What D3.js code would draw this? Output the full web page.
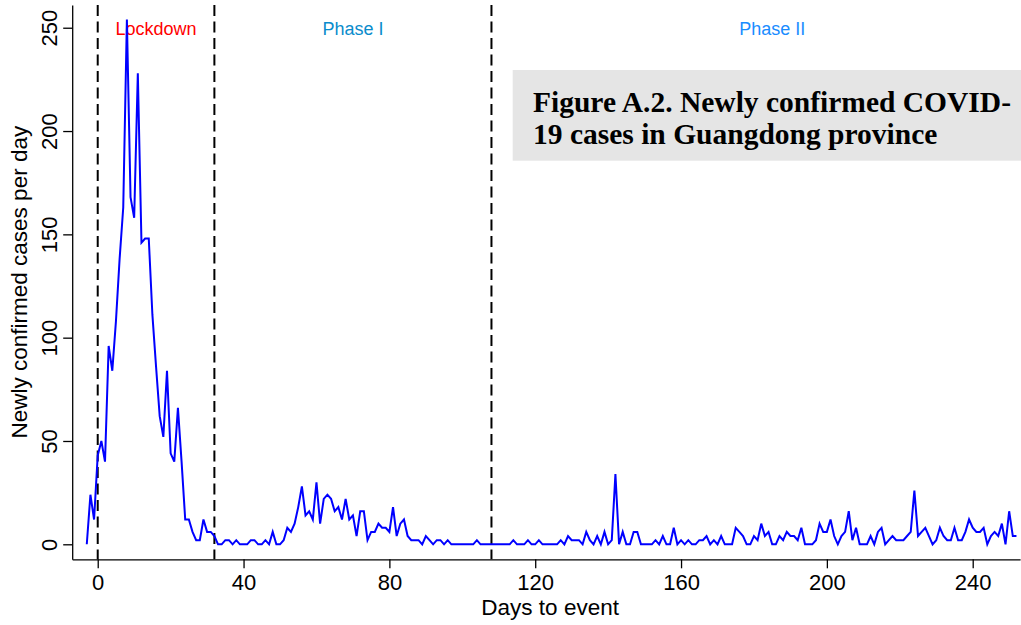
<!DOCTYPE html>
<html>
<head>
<meta charset="utf-8">
<script src="https://cdn.jsdelivr.net/npm/d3@7"></script>
<style>
  html, body { margin: 0; padding: 0; background: #ffffff; }
  svg { display: block; }
</style>
</head>
<body>
<svg id="chart" width="1021" height="625"></svg>
<script>
// ---- data ----
const firstDay = -3;
const cases = [
  0, 24, 12,
  43, 50, 40, 96, 84, 108, 138, 163, 254, 168,
  158, 228, 146, 148, 148, 111, 86, 62, 52, 84,
  44, 40, 66, 40, 12, 12, 6, 2, 2, 12,
  6, 6, 4, 0, 0, 2, 2, 0, 2, 0,
  0, 0, 2, 2, 0, 0, 2, 0, 6, 0,
  0, 2, 8, 6, 10, 18, 28, 14, 16, 12,
  30, 10, 22, 24, 22, 16, 18, 12, 22, 12,
  14, 4, 16, 16, 2, 6, 6, 10, 8, 8,
  6, 18, 4, 10, 12, 4, 2, 2, 2, 0,
  4, 2, 0, 2, 2, 0, 2, 0, 0, 0,
  0, 0, 0, 0, 2, 0, 0, 0, 0, 0,
  0, 0, 0, 0, 2, 0, 0, 0, 2, 0,
  0, 2, 0, 0, 0, 0, 0, 2, 0, 4,
  2, 2, 2, 0, 6, 2, 0, 4, 0, 6,
  0, 2, 34, 0, 6, 0, 0, 6, 6, 0,
  0, 0, 0, 2, 0, 4, 0, 0, 8, 0,
  2, 0, 2, 0, 0, 2, 2, 4, 0, 2,
  0, 4, 0, 0, 0, 8, 6, 4, 0, 0,
  4, 2, 10, 4, 6, 0, 0, 4, 2, 6,
  4, 4, 2, 8, 0, 0, 0, 2, 10, 6,
  6, 12, 4, 0, 4, 6, 16, 2, 8, 0,
  0, 0, 4, 0, 6, 8, 0, 2, 4, 2,
  2, 2, 4, 6, 26, 4, 6, 8, 4, 0,
  2, 8, 4, 2, 2, 8, 2, 2, 6, 12,
  8, 6, 6, 8, 0, 4, 6, 4, 10, 0,
  16, 4, 4
];
const xTicks = [0, 40, 80, 120, 160, 200, 240];
const yTicks = [0, 50, 100, 150, 200, 250];
const eventDays = [0, 32, 108];
const phaseNames = ["Lockdown", "Phase I", "Phase II"];
const phaseDays = [16, 70, 185];
const phaseColors = ["#ff0000", "#0a8ccc", "#1a8cff"];
const xTitle = "Days to event";
const yTitle = "Newly confirmed cases per day";
const titleLines = ["Figure A.2. Newly confirmed COVID-", "19 cases in Guangdong province"];

// ---- layout ----
const W = 1021, H = 625;
const svg = d3.select("#chart");
const x = d3.scaleLinear().domain([-7, 253]).range([72.2, 1020.1]);
const y = d3.scaleLinear().domain([-7.26, 261]).range([559.3, 5]);
const sansFont = "'Liberation Sans', Arial, Helvetica, sans-serif";
const serifFont = "'Liberation Serif', 'Times New Roman', Times, serif";

const data = cases.map((v, i) => ({ day: firstDay + i, value: v }));

// title box
const tb = svg.append("g");
tb.append("rect")
  .attr("x", 512.7).attr("y", 70).attr("width", W - 512.7).attr("height", 90.7)
  .attr("fill", "#e5e5e5");
tb.selectAll("text").data(titleLines).enter().append("text")
  .attr("x", 533).attr("y", (d, i) => 111.5 + i * 32)
  .attr("font-family", serifFont).attr("font-weight", "bold")
  .attr("font-size", 29.5).attr("fill", "#000")
  .text(d => d);

// x axis
const xAxis = d3.axisBottom(x).tickValues(xTicks).tickSize(9).tickSizeOuter(0).tickPadding(6);
const gx = svg.append("g").attr("transform", `translate(0,${y.range()[0]})`).call(xAxis);
gx.select(".domain").attr("stroke", "#000").attr("stroke-width", 1.3);
gx.selectAll(".tick line").attr("stroke", "#000").attr("stroke-width", 1.3);
gx.selectAll(".tick text").attr("font-family", sansFont).attr("font-size", 22).attr("fill", "#000");

// y axis
const yAxis = d3.axisLeft(y).tickValues(yTicks).tickSize(9).tickSizeOuter(0);
const gy = svg.append("g").attr("transform", `translate(${x.range()[0]},0)`).call(yAxis);
gy.select(".domain").attr("stroke", "#000").attr("stroke-width", 1.3);
gy.selectAll(".tick line").attr("stroke", "#000").attr("stroke-width", 1.3);
gy.selectAll(".tick text")
  .attr("font-family", sansFont).attr("font-size", 22).attr("fill", "#000")
  .attr("x", null).attr("dy", null)
  .attr("text-anchor", "middle")
  .attr("transform", "translate(-15,0) rotate(-90)");

// axis titles
svg.append("text")
  .attr("x", (x.range()[0] + x.range()[1]) / 2 + 4).attr("y", 615)
  .attr("text-anchor", "middle")
  .attr("font-family", sansFont).attr("font-size", 22.5).attr("fill", "#000")
  .text(xTitle);
svg.append("text")
  .attr("transform", `translate(27,${(y.range()[0] + y.range()[1]) / 2}) rotate(-90)`)
  .attr("text-anchor", "middle")
  .attr("font-family", sansFont).attr("font-size", 22.5).attr("fill", "#000")
  .text(yTitle);

// event lines
svg.selectAll(".event").data(eventDays).enter().append("line")
  .attr("class", "event")
  .attr("x1", d => x(d)).attr("x2", d => x(d))
  .attr("y1", y.range()[1]).attr("y2", y.range()[0])
  .attr("stroke", "#000").attr("stroke-width", 2)
  .attr("stroke-dasharray", "11,5.5");

// phase labels
svg.selectAll(".phase").data(phaseNames).enter().append("text")
  .attr("class", "phase")
  .attr("x", (d, i) => x(phaseDays[i])).attr("y", 35)
  .attr("text-anchor", "middle")
  .attr("font-family", sansFont).attr("font-size", 18)
  .attr("fill", (d, i) => phaseColors[i])
  .text(d => d);

// series line
const line = d3.line().x(d => x(d.day)).y(d => y(d.value));
svg.append("path").datum(data)
  .attr("d", line)
  .attr("fill", "none").attr("stroke", "#0000ff")
  .attr("stroke-width", 2).attr("stroke-linejoin", "miter");
</script>
</body>
</html>
